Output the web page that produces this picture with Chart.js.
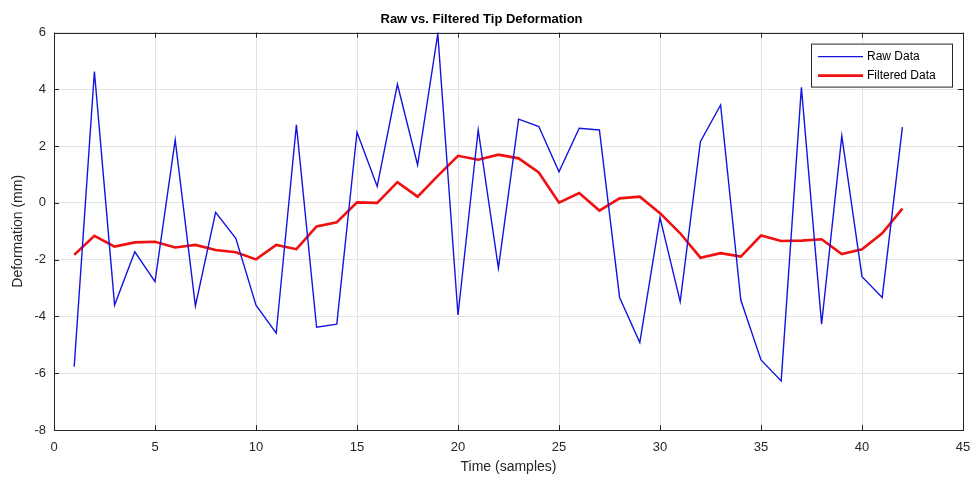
<!DOCTYPE html>
<html>
<head>
<meta charset="utf-8">
<script src="https://cdn.jsdelivr.net/npm/chart.js@4"></script>
<style>
  html, body { margin: 0; padding: 0; background: #fff; }
  #wrap { width: 976px; height: 481px; }
</style>
</head>
<body>
<div id="wrap"><canvas id="tipChart" width="976" height="481"></canvas></div>
<script>
// sample index (x) and the two series
const samples = [1, 2, 3, 4, 5, 6, 7, 8, 9, 10, 11, 12, 13, 14, 15, 16, 17, 18, 19, 20, 21,
	22, 23, 24, 25, 26, 27, 28, 29, 30, 31, 32, 33, 34, 35, 36, 37, 38, 39, 40, 41, 42];
const rawData = [-5.77, 4.63, -3.60, -1.72, -2.77, 2.22, -3.63, -0.33, -1.25, -3.60, -4.59,
	2.75, -4.38, -4.27, 2.49, 0.58, 4.18, 1.34, 5.96, -3.95, 2.57, -2.30, 2.95, 2.69, 1.10,
	2.63, 2.57, -3.33, -4.92, -0.52, -3.48, 2.16, 3.45, -3.42, -5.53, -6.27, 4.07, -4.27,
	2.36, -2.60, -3.33, 2.67];
const filteredData = [-1.83, -1.16, -1.54, -1.39, -1.37, -1.57, -1.48, -1.66, -1.74, -1.99,
	-1.48, -1.63, -0.83, -0.68, 0.02, 0.0, 0.73, 0.22, 0.95, 1.66, 1.52, 1.70, 1.57, 1.07,
	0.01, 0.35, -0.27, 0.16, 0.22, -0.36, -1.07, -1.93, -1.77, -1.89, -1.15, -1.34, -1.33,
	-1.28, -1.80, -1.63, -1.07, -0.20];
const seriesNames = ["Raw Data", "Filtered Data"];

const axisColor = "#262626";
const fontName = "'Liberation Sans', Arial, sans-serif";

// box round the plot with small inward ticks, like the original
const boxPlugin = {
	id: "boxPlugin",
	afterDraw(chart) {
		const { ctx, chartArea: a, scales } = chart;
		ctx.save();
		ctx.strokeStyle = axisColor;
		ctx.lineWidth = 1;
		ctx.strokeRect(Math.round(a.left) + 0.5, Math.round(a.top) + 0.5,
			Math.round(a.right - a.left), Math.round(a.bottom - a.top));
		const len = 5;
		ctx.beginPath();
		scales.x.ticks.forEach((t) => {
			const px = Math.round(scales.x.getPixelForValue(t.value)) + 0.5;
			ctx.moveTo(px, a.bottom); ctx.lineTo(px, a.bottom - len);
			ctx.moveTo(px, a.top); ctx.lineTo(px, a.top + len);
		});
		scales.y.ticks.forEach((t) => {
			const py = Math.round(scales.y.getPixelForValue(t.value)) + 0.5;
			ctx.moveTo(a.left, py); ctx.lineTo(a.left + len, py);
			ctx.moveTo(a.right, py); ctx.lineTo(a.right - len, py);
		});
		ctx.stroke();
		ctx.restore();
	},
};

// legend box in the upper right corner
const legendPlugin = {
	id: "legendPlugin",
	afterDraw(chart) {
		const { ctx, chartArea: a } = chart;
		const x0 = a.right - 152, y0 = a.top + 11, w = 141, h = 43;
		ctx.save();
		ctx.fillStyle = "#fff";
		ctx.fillRect(x0, y0, w, h);
		ctx.strokeStyle = axisColor;
		ctx.lineWidth = 1;
		ctx.strokeRect(x0 + 0.5, y0 + 0.5, w, h);
		ctx.font = "12px " + fontName;
		ctx.textBaseline = "middle";
		chart.data.datasets.forEach((ds, i) => {
			const cy = y0 + 13 + i * 19;
			ctx.strokeStyle = ds.borderColor;
			ctx.lineWidth = ds.borderWidth;
			ctx.beginPath();
			ctx.moveTo(x0 + 7, cy); ctx.lineTo(x0 + 52, cy);
			ctx.stroke();
			ctx.fillStyle = "#000";
			ctx.fillText(ds.label, x0 + 56, cy);
		});
		ctx.restore();
	},
};

const ctx = document.getElementById("tipChart").getContext("2d");
new Chart(ctx, {
	type: "line",
	data: {
		datasets: [
			{
				label: seriesNames[0],
				data: samples.map((s, i) => ({ x: s, y: rawData[i] })),
				borderColor: "#1414e0",
				borderWidth: 1.4,
				pointRadius: 0,
				tension: 0,
			},
			{
				label: seriesNames[1],
				data: samples.map((s, i) => ({ x: s, y: filteredData[i] })),
				borderColor: "#f01010",
				borderWidth: 2.6,
				pointRadius: 0,
				tension: 0,
			},
		],
	},
	options: {
		responsive: false,
		animation: false,
		layout: { padding: { top: 0, right: 13, bottom: 0, left: 0 } },
		plugins: {
			legend: { display: false },
			tooltip: { enabled: false },
			title: {
				display: true,
				text: "Raw vs. Filtered Tip Deformation",
				color: "#000",
				font: { family: fontName, size: 13, weight: "bold" },
				padding: { top: 12, bottom: 5 },
			},
		},
		scales: {
			x: {
				type: "linear",
				min: 0,
				max: 45,
				ticks: { stepSize: 5, color: axisColor, font: { family: fontName, size: 13 }, padding: 10, maxRotation: 0 },
				grid: { color: "#e3e3e3", drawTicks: false },
				border: { display: false },
				title: {
					display: true,
					text: "Time (samples)",
					color: axisColor,
					font: { family: fontName, size: 14 },
					padding: { top: 2, bottom: 5 },
				},
				afterFit: (s) => { s.height = 51; s.paddingLeft = 0; s.paddingRight = 0; },
			},
			y: {
				min: -8,
				max: 6,
				ticks: { stepSize: 2, color: axisColor, font: { family: fontName, size: 13 }, padding: 8 },
				grid: { color: "#e3e3e3", drawTicks: false },
				border: { display: false },
				title: {
					display: true,
					text: "Deformation (mm)",
					color: axisColor,
					font: { family: fontName, size: 14 },
					padding: { top: 10, bottom: 4 },
				},
				afterFit: (s) => { s.width = 54; s.paddingTop = 0; s.paddingBottom = 0; },
			},
		},
	},
	plugins: [boxPlugin, legendPlugin],
});
</script>
</body>
</html>
